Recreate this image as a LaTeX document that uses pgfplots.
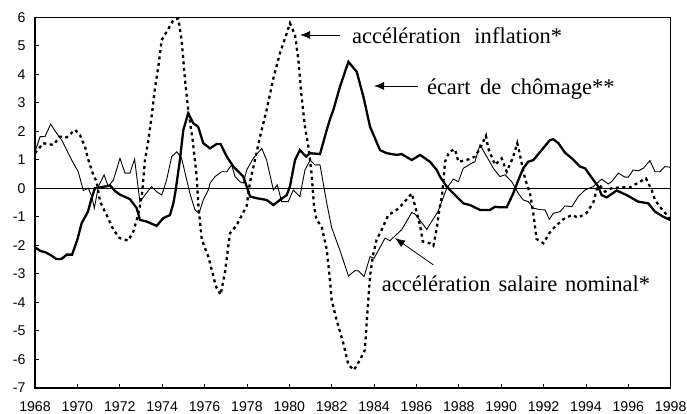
\documentclass[border=0pt]{standalone}
\usepackage{fontspec}
\setmainfont{Liberation Serif}
\newfontfamily\arialfont{Liberation Sans}
\usepackage{pgfplots}
\pgfplotsset{compat=1.18}
\usetikzlibrary{arrows.meta}

\begin{document}
\begin{tikzpicture}
\useasboundingbox (0,0) rectangle (687bp,414bp);
\begin{axis}[
  at={(35bp,26.3bp)}, anchor=south west,
  scale only axis, width=635.7bp, height=370.4bp,
  xmin=1968, xmax=1998, ymin=-7, ymax=6,
  xtick={1968,1970,1972,1974,1976,1978,1980,1982,1984,1986,1988,1990,1992,1994,1996,1998},
  xticklabels={1968,1970,1972,1974,1976,1978,1980,1982,1984,1986,1988,1990,1992,1994,1996,1998},
  ytick={-7,-6,-5,-4,-3,-2,-1,0,1,2,3,4,5,6},
  yticklabels={-7,-6,-5,-4,-3,-2,-1,0,1,2,3,4,5,6},
  tick align=inside, xtick pos=bottom, ytick pos=left,
  major tick length=4bp,
  tick style={black, line width=0.8bp},
  axis line style={line width=0.8bp},
  tick label style={font=\arialfont\fontsize{14.2}{16}\selectfont},
  xticklabel style={yshift=-10bp},
  yticklabel style={xshift=-6bp},
  clip=false,
]
% zero line
\addplot[black, line width=0.7bp] coordinates {(1968,0) (1998,0)};

% accélération salaire nominal (thin)
\addplot[black, line width=0.9bp] coordinates {
(1968.0,1.28) (1968.24,1.81) (1968.47,1.81) (1968.74,2.25) (1969.02,1.93) (1969.26,1.69)
(1969.57,1.23) (1969.81,0.88) (1970.04,0.58) (1970.28,-0.08) (1970.52,0.0) (1970.68,-0.29)
(1970.8,-0.7) (1970.99,0.06) (1971.26,0.47) (1971.46,0.06) (1971.7,0.29) (1972.01,1.05)
(1972.25,0.53) (1972.48,0.53) (1972.7,1.02) (1972.95,-0.47) (1973.5,0.06) (1973.74,-0.12)
(1973.98,-0.24) (1974.21,0.29) (1974.45,1.11) (1974.69,1.28) (1974.92,1.05) (1975.16,0.29)
(1975.31,-0.18) (1975.55,-0.76) (1975.74,-0.88) (1975.94,-0.41) (1976.18,-0.06) (1976.26,0.18)
(1976.5,0.41) (1976.81,0.58) (1977.05,0.58) (1977.28,0.82) (1977.44,0.41) (1977.67,0.23)
(1977.83,0.18) (1977.99,0.64) (1978.3,1.05) (1978.7,1.4) (1978.93,0.99) (1979.25,-0.06)
(1979.43,0.12) (1979.64,-0.47) (1979.95,-0.47) (1980.19,-0.06) (1980.5,-0.29) (1980.74,0.64)
(1980.98,0.99) (1981.21,0.82) (1981.45,0.82) (1981.77,-0.53) (1982.0,-1.38) (1982.4,-2.2)
(1982.79,-3.08) (1983.1,-2.89) (1983.26,-2.9) (1983.53,-3.1) (1983.81,-2.4) (1984.0,-2.46)
(1984.52,-1.75) (1984.75,-1.84) (1985.3,-1.46) (1985.78,-0.85) (1985.93,-0.9) (1986.49,-1.44)
(1987.03,-0.8) (1987.43,0.0) (1987.74,0.32) (1987.98,0.23) (1988.21,0.7) (1988.61,0.88)
(1988.76,0.93) (1989.0,1.52) (1989.32,1.11) (1989.63,0.7) (1989.94,0.41) (1990.18,0.47)
(1990.5,0.23) (1990.81,-0.18) (1991.04,-0.41) (1991.28,-0.47) (1991.52,-0.7) (1991.83,-0.75)
(1992.07,-0.76) (1992.27,-1.09) (1992.46,-0.88) (1992.78,-0.82) (1993.01,-0.62) (1993.33,-0.65)
(1993.64,-0.29) (1993.96,-0.06) (1994.35,0.06) (1994.74,0.32) (1995.05,0.15) (1995.21,0.23)
(1995.53,0.53) (1995.84,0.39) (1996.0,0.39) (1996.23,0.64) (1996.47,0.61) (1996.71,0.7)
(1997.02,0.97) (1997.26,0.58) (1997.49,0.58) (1997.73,0.76) (1997.97,0.74)
};

% accélération inflation (dotted)
\addplot[black, line width=2.3bp, dash pattern=on 3bp off 3.5bp] coordinates {
(1968.0,1.23) (1968.39,1.58) (1968.86,1.52) (1969.18,1.81) (1969.5,1.79) (1969.89,2.05)
(1970.12,1.87) (1970.36,1.46) (1970.52,0.99) (1970.75,0.47) (1970.91,0.23) (1971.07,-0.47)
(1971.38,-0.94) (1971.7,-1.46) (1972.0,-1.75) (1972.4,-1.84) (1972.64,-1.52) (1972.8,-1.11)
(1972.92,-0.76) (1973.05,-0.2) (1973.19,0.99) (1973.35,1.69) (1973.51,2.57) (1973.66,3.5)
(1973.82,4.27) (1973.98,5.2) (1974.21,5.49) (1974.53,5.9) (1974.76,5.96) (1974.92,5.2)
(1975.08,3.8) (1975.23,2.75) (1975.44,1.69) (1975.63,0.41) (1975.71,-0.59) (1975.87,-1.81)
(1976.18,-2.4) (1976.54,-3.45) (1976.76,-3.74) (1976.97,-2.93) (1977.2,-1.58) (1977.52,-1.29)
(1977.99,-0.62) (1978.15,0.23) (1978.38,0.99) (1978.62,1.81) (1978.93,2.75) (1979.25,3.86)
(1979.56,4.74) (1979.88,5.44) (1980.03,5.79) (1980.27,5.38) (1980.43,4.5) (1980.58,3.21)
(1980.74,2.16) (1980.9,1.46) (1981.05,0.53) (1981.17,-0.65) (1981.29,-1.11) (1981.53,-1.35)
(1981.77,-2.16) (1981.92,-3.22) (1982.0,-3.92) (1982.23,-4.62) (1982.55,-5.44) (1982.79,-6.2)
(1983.05,-6.38) (1983.34,-6.02) (1983.57,-5.67) (1983.65,-4.74) (1983.73,-3.92) (1983.81,-3.1)
(1983.94,-2.4) (1984.12,-1.81) (1984.36,-1.46) (1984.67,-0.94) (1985.07,-0.76) (1985.38,-0.53)
(1985.78,-0.18) (1986.17,-1.3) (1986.3,-1.87) (1986.64,-1.93) (1986.8,-2.02) (1986.96,-1.4)
(1987.08,-0.76) (1987.2,-0.29) (1987.27,0.18) (1987.35,0.93) (1987.55,1.28) (1987.82,1.37)
(1987.98,0.93) (1988.37,0.99) (1988.76,1.11) (1989.0,1.4) (1989.28,1.84) (1989.39,1.4)
(1989.71,0.82) (1990.02,1.05) (1990.26,0.58) (1990.54,1.05) (1990.76,1.58) (1990.92,1.05)
(1991.12,0.35) (1991.36,-0.18) (1991.52,-0.9) (1991.67,-1.78) (1991.99,-1.93) (1992.3,-1.55)
(1992.54,-1.35) (1992.93,-1.09) (1993.33,-0.94) (1993.64,-1.03) (1994.03,-0.87) (1994.35,-0.5)
(1994.51,-0.03) (1994.65,0.1) (1994.9,-0.12) (1995.21,0.0) (1995.61,0.03) (1996.08,0.03)
(1996.55,0.23) (1996.83,0.35) (1997.1,-0.06) (1997.26,-0.41) (1997.49,-0.65) (1997.89,-1.0)
(1997.97,-1.11)
};

% écart de chômage (thick)
\addplot[black, line width=2.3bp] coordinates {
(1968.0,-2.07) (1968.25,-2.2) (1968.5,-2.25) (1968.75,-2.35) (1969.0,-2.48) (1969.25,-2.48)
(1969.5,-2.33) (1969.75,-2.33) (1970.0,-1.8) (1970.2,-1.23) (1970.5,-0.82) (1970.67,-0.35)
(1970.83,0.0) (1971.07,0.03) (1971.38,0.07) (1971.54,0.1) (1971.78,-0.1) (1972.0,-0.22)
(1972.48,-0.38) (1972.8,-0.7) (1972.95,-1.11) (1973.27,-1.17) (1973.74,-1.32) (1974.05,-1.05)
(1974.37,-0.94) (1974.53,-0.53) (1974.64,-0.06) (1974.84,1.0) (1975.0,2.05) (1975.23,2.63)
(1975.47,2.28) (1975.7,2.16) (1975.94,1.58) (1976.26,1.40) (1976.57,1.55) (1976.76,1.55)
(1977.05,1.11) (1977.36,0.76) (1977.67,0.53) (1977.83,0.41) (1978.15,-0.29) (1978.46,-0.35)
(1978.93,-0.41) (1979.25,-0.59) (1979.56,-0.41) (1979.88,-0.24) (1980.03,0.06) (1980.27,0.99)
(1980.5,1.34) (1980.79,1.11) (1980.98,1.23) (1981.45,1.2) (1981.77,2.05) (1981.92,2.42)
(1982.08,2.75) (1982.39,3.56) (1982.79,4.44) (1983.18,4.09) (1983.5,3.21) (1983.81,2.16)
(1984.28,1.34) (1984.6,1.23) (1985.07,1.17) (1985.3,1.2) (1985.78,0.99) (1986.17,1.17)
(1986.64,0.93) (1986.96,0.64) (1987.11,0.41) (1987.43,0.06) (1987.74,-0.18) (1988.21,-0.53)
(1988.53,-0.59) (1989.0,-0.76) (1989.47,-0.76) (1989.71,-0.65) (1989.94,-0.67) (1990.26,-0.67)
(1990.57,-0.18) (1990.81,0.29) (1991.04,0.7) (1991.28,0.93) (1991.52,0.99) (1991.91,1.34)
(1992.3,1.69) (1992.46,1.72) (1992.7,1.58) (1993.01,1.25) (1993.33,1.05) (1993.72,0.76)
(1993.96,0.7) (1994.35,0.29) (1994.58,0.06) (1994.74,-0.24) (1994.98,-0.32) (1995.45,-0.08)
(1995.92,-0.24) (1996.47,-0.47) (1996.94,-0.53) (1997.26,-0.82) (1997.65,-1.0) (1997.97,-1.11)
};

% thicker left and bottom axis lines
\draw[black, line width=2bp] (rel axis cs:0,1) -- (rel axis cs:0,0) -- (rel axis cs:1,0);

% annotations
\node[anchor=base west, inner sep=0pt, font=\fontsize{22.6}{26}\selectfont] at (axis cs:1982.96,5.09) {accélération\hspace{0.6em}inflation*};
\draw[-{Latex[length=10bp,width=8bp]}, line width=0.8bp] (axis cs:1982.39,5.38) -- (axis cs:1980.51,5.38);

\node[anchor=base west, inner sep=0pt, font=\fontsize{22.6}{26}\selectfont] at (axis cs:1986.49,3.30) {écart\hspace{0.42em}de\hspace{0.42em}chômage**};
\draw[-{Latex[length=10bp,width=8bp]}, line width=0.8bp] (axis cs:1986.07,3.59) -- (axis cs:1984.0,3.59);

\node[anchor=base west, inner sep=0pt, font=\fontsize{22.6}{26}\selectfont] at (axis cs:1984.36,-3.63) {accélération\hspace{0.35em}salaire\hspace{0.35em}nominal*};
\draw[-{Latex[length=10bp,width=8bp]}, line width=0.8bp] (axis cs:1986.80,-2.69) -- (axis cs:1984.99,-1.75);
\end{axis}
\end{tikzpicture}
\end{document}
